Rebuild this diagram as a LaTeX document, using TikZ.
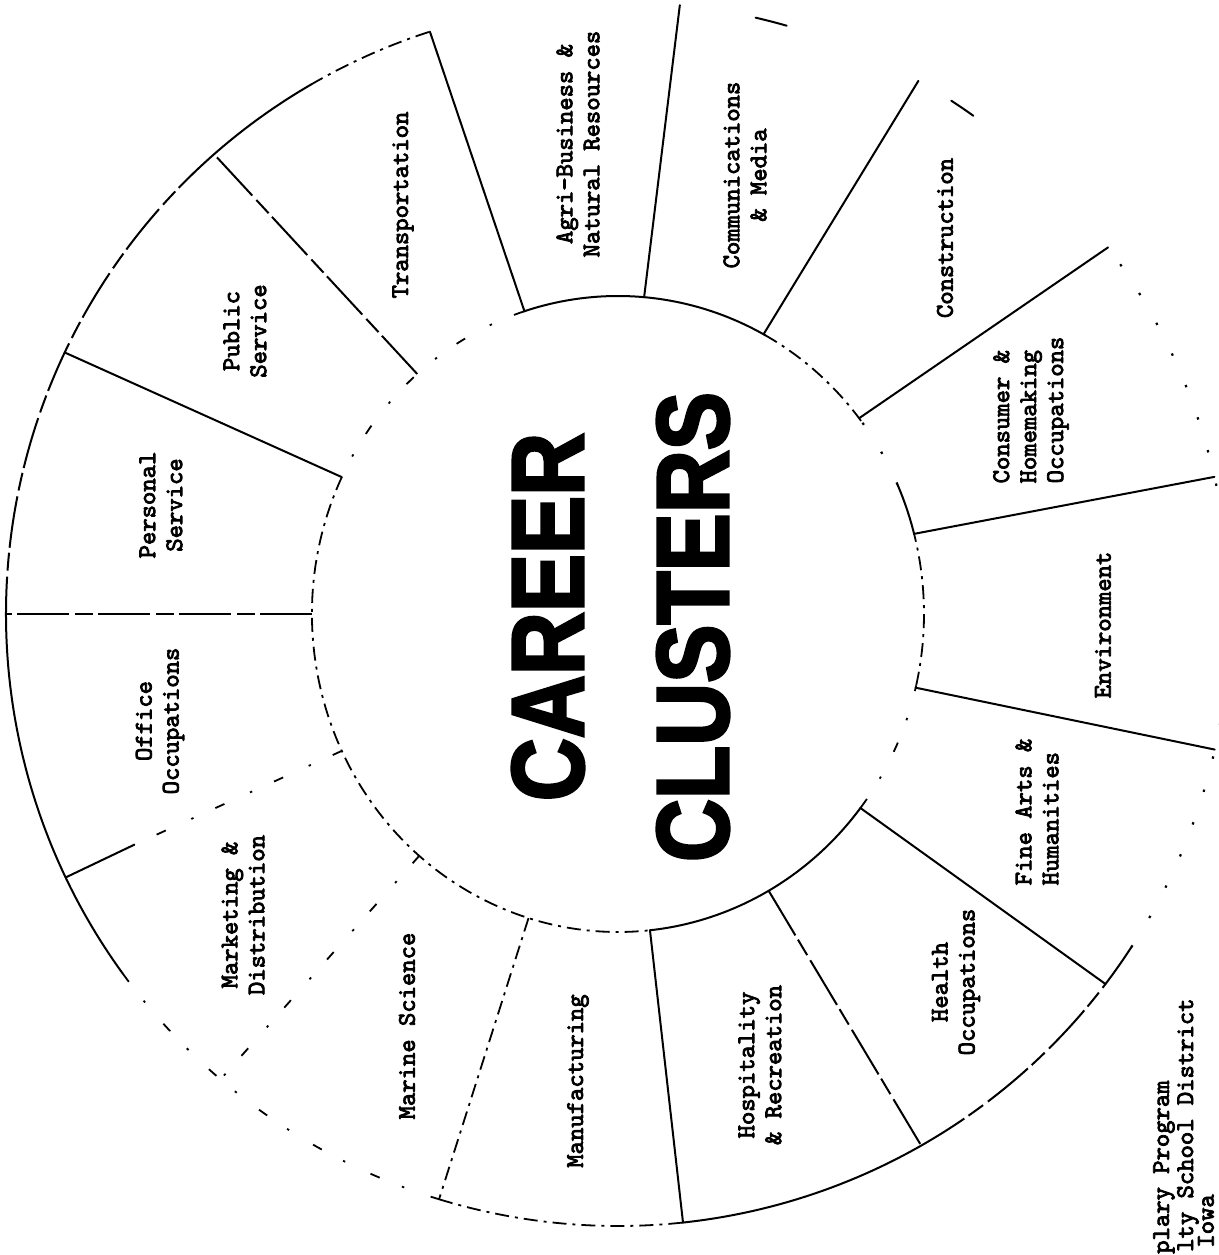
\documentclass[tikz,border=0pt]{standalone}
\usepackage{fontspec}
\usepackage{graphicx}
\newfontfamily\typer[FakeBold=3.2]{lmmono10-regular.otf}
\newfontfamily\heavy[BoldFeatures={FakeBold=3}]{Liberation Sans}

\begin{document}
\begin{tikzpicture}[
  wsolid/.style={line width=1pt, line cap=round},
  wbroken/.style={line width=1pt, dash pattern=on 26pt off 2.5pt on 9pt off 3pt},
  wdash/.style={line width=0.9pt, dash pattern=on 7pt off 3pt on 1.5pt off 3pt},
  wsparse/.style={line width=0.9pt, dash pattern=on 5pt off 12pt on 1.2pt off 14pt},
  wdots/.style={line width=1.1pt, dash pattern=on 1.2pt off 16pt},
  cluster/.style={font=\typer\fontsize{12.7}{13.5}\selectfont,
                  rotate=90, align=center, inner sep=0pt},
  title/.style={font=\heavy\bfseries\fontsize{51}{55}\selectfont,
                rotate=90, inner sep=0pt},
]
\useasboundingbox (-309pt,-320.5pt) rectangle (300.5pt,307pt);

% ---------- inner ring (slightly oval) ----------
\draw[wsolid]  (61:153pt and 159pt)   arc[start angle=61,   end angle=108,  x radius=153pt, y radius=159pt];
\draw[wsparse] (108:153pt and 159pt)  arc[start angle=108,  end angle=154.5,x radius=153pt, y radius=159pt];
\draw[wdash]   (154.5:153pt and 159pt) arc[start angle=154.5,end angle=276, x radius=153pt, y radius=159pt];
\draw[wsolid]  (-84:153pt and 159pt)  arc[start angle=-84,  end angle=-37.4,x radius=153pt, y radius=159pt];
\draw[wsparse] (-37.4:153pt and 159pt) arc[start angle=-37.4,end angle=-13, x radius=153pt, y radius=159pt];
\draw[wdash]   (-13:153pt and 159pt)  arc[start angle=-13,  end angle=14.6, x radius=153pt, y radius=159pt];
\draw[wsolid]  (14.6:153pt and 159pt) arc[start angle=14.6, end angle=24,   x radius=153pt, y radius=159pt];
\draw[wdots]   (24:153pt and 159pt)   arc[start angle=24,   end angle=37.4, x radius=153pt, y radius=159pt];
\draw[wdash]   (37.4:153pt and 159pt) arc[start angle=37.4, end angle=61,   x radius=153pt, y radius=159pt];

% ---------- outer ring ----------
\draw[wdash]   (108:306pt) arc[start angle=108, end angle=120, radius=306pt];
\draw[wsolid]  (120:306pt) arc[start angle=120, end angle=131, radius=306pt];
\draw[wbroken] (131:306pt) arc[start angle=131, end angle=180, radius=306pt];
\draw[wsolid]  (180:306pt) arc[start angle=180, end angle=216, radius=306pt];
\draw[wsparse] (216:306pt) arc[start angle=216, end angle=253, radius=306pt];
\draw[wdash]   (253:306pt) arc[start angle=253, end angle=276, radius=306pt];
\draw[wsolid]  (276:306pt) arc[start angle=276, end angle=299.6, radius=306pt];
\draw[wbroken] (299.6:306pt) arc[start angle=299.6, end angle=323, radius=306pt];
\draw[wsolid]  (323:306pt) arc[start angle=323, end angle=327, radius=306pt];
\draw[wdots]   (327:306pt) arc[start angle=327, end angle=397, radius=306pt];
\draw[wsolid]  (54.5:306pt) arc[start angle=54.5, end angle=57, radius=306pt];
\draw[wsolid]  (74:306pt) arc[start angle=74, end angle=77, radius=306pt];

% ---------- spokes between the clusters ----------
\coordinate (i1)  at (180:153pt and 159pt);   \coordinate (o1)  at (180:306pt);
\coordinate (i2)  at (154.5:153pt and 159pt); \coordinate (o2)  at (154.7:306pt);
\coordinate (i3)  at (131:153pt and 159pt);   \coordinate (o3)  at (131.3:306pt);
\coordinate (i4)  at (107.8:153pt and 159pt); \coordinate (o4)  at (107.9:306pt);
\coordinate (i5)  at (85.1:153pt and 159pt);  \coordinate (o5)  at (84.2:306pt);
\coordinate (i6)  at (61.6:153pt and 159pt);  \coordinate (o6)  at (60.6:306pt);
\coordinate (i7)  at (38:153pt and 159pt);    \coordinate (o7)  at (36.8:306pt);
\coordinate (i8)  at (14.6:153pt and 159pt);  \coordinate (o8)  at (12.95:306pt);
\coordinate (i9)  at (-13.4:153pt and 159pt); \coordinate (o9)  at (-12.8:306pt);
\coordinate (i10) at (-37.6:153pt and 159pt); \coordinate (o10) at (-37.2:306pt);
\coordinate (i11) at (-60.5:153pt and 159pt); \coordinate (o11) at (-60.3:306pt);
\coordinate (i12) at (-84:153pt and 159pt);   \coordinate (o12) at (-83.9:306pt);
\coordinate (i13) at (253:153pt and 159pt);   \coordinate (o13) at (253:306pt);
\coordinate (i14) at (229.5:153pt and 159pt); \coordinate (o14) at (229.5:306pt);
\coordinate (i15) at (205.5:153pt and 159pt); \coordinate (o15) at (205.5:306pt);
\coordinate (m15) at (205.5:268pt);

\draw[wbroken] (i1) -- (o1);
\draw[wsolid]  (i2) -- (o2);
\draw[wbroken] (i3) -- (o3);
\draw[wsolid]  (i4) -- (o4);
\draw[wsolid]  (i5) -- (o5);
\draw[wsolid]  (i6) -- (o6);
\draw[wsolid]  (i7) -- (o7);
\draw[wsolid]  (i8) -- (o8);
\draw[wsolid]  (i9) -- (o9);
\draw[wsolid]  (i10) -- (o10);
\draw[wbroken] (i11) -- (o11);
\draw[wsolid]  (i12) -- (o12);
\draw[wdash]   (i13) -- (o13);
\draw[wsparse] (i14) -- (o14);
\draw[wsparse] (i15) -- (m15);
\draw[wsolid]  (m15) -- (o15);

% ---------- hub title ----------
\node[title] (career)   at (-35pt,-1.5pt) {\scalebox{0.855}[1]{CAREER}};
\node[title] (clusters) at (37.5pt,-6.5pt) {\scalebox{0.855}[1]{CLUSTERS}};

% ---------- cluster names ----------
\node[cluster] (transport) at (-107.5pt,204.5pt) {Transportation};
\node[cluster] (agri)      at (-20pt,235pt)     {Agri-Business \&\\Natural Resources};
\node[cluster] (comm)      at (63.5pt,219.5pt)  {Communications\\\& Media};
\node[cluster] (constr)    at (163.5pt,188pt)   {Construction};
\node[cluster, align=left] (consumer) at (206.5pt,102pt) {Consumer \&\\Homemaking\\Occupations};
\node[cluster] (environ)   at (242.5pt,-5.5pt)  {Environment};
\node[cluster, align=left] (finearts) at (209.5pt,-99pt) {Fine Arts \&\\Humanities};
\node[cluster] (health)    at (169pt,-184pt)    {Health\\Occupations};
\node[cluster] (hospit)    at (71pt,-225.5pt)   {Hospitality\\\& Recreation};
\node[cluster] (manuf)     at (-20pt,-233.5pt)  {Manufacturing};
\node[cluster] (marine)    at (-105.5pt,-206pt) {Marine Science};
\node[cluster] (market)    at (-187.5pt,-150.5pt) {Marketing \&\\Distribution};
\node[cluster] (office)    at (-229pt,-53.5pt)  {Office\\Occupations};
\node[cluster] (personal)  at (-228.5pt,54.5pt) {Personal\\Service};
\node[cluster] (public)    at (-186.5pt,141.5pt) {Public\\Service};

% ---------- source line in the corner ----------
\node[cluster, anchor=east] (src1) at (273pt,-233pt)  {plary Program};
\node[cluster, anchor=east] (src2) at (285pt,-192pt)  {lty School District};
\node[cluster, anchor=west] (src3) at (294pt,-317pt)  {Iowa};
\end{tikzpicture}
\end{document}
